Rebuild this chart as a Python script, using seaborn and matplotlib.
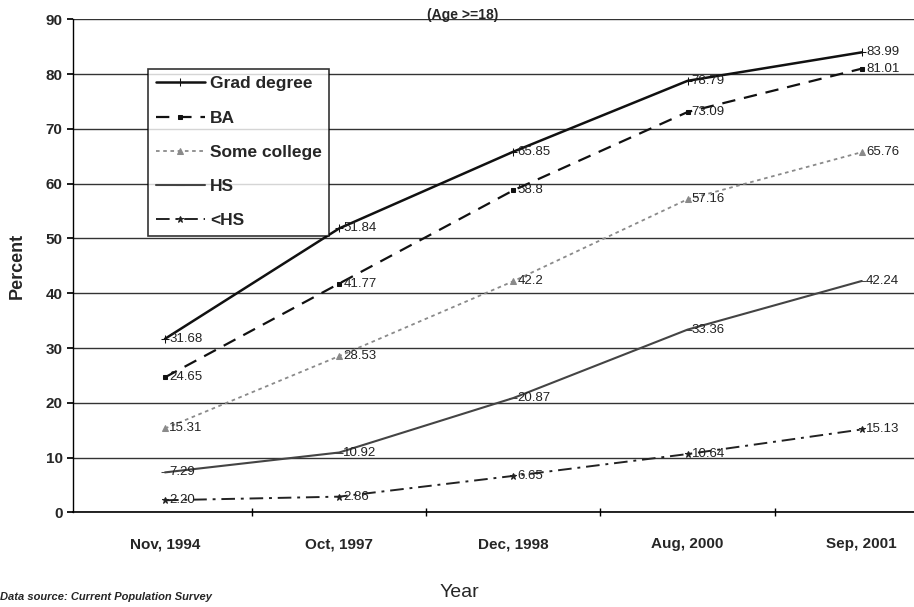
import matplotlib
matplotlib.use("Agg")
import matplotlib.pyplot as plt
import seaborn as sns
import pandas as pd
import numpy as np

categories = ["Nov, 1994", "Oct, 1997", "Dec, 1998", "Aug, 2000", "Sep, 2001"]
grad_degree = [31.68, 51.84, 65.85, 78.79, 83.99]
ba = [24.65, 41.77, 58.8, 73.09, 81.01]
some_college = [15.31, 28.53, 42.2, 57.16, 65.76]
hs = [7.29, 10.92, 20.87, 33.36, 42.24]
less_hs = [2.20, 2.86, 6.65, 10.64, 15.13]
series_names = ["Grad degree", "BA", "Some college", "HS", "<HS"]
yticks = [0, 10, 20, 30, 40, 50, 60, 70, 80, 90]

sns.set_theme(style="white")
plt.rcParams['font.family'] = ['Liberation Sans', 'DejaVu Sans']

values = [grad_degree, ba, some_college, hs, less_hs]
df = pd.DataFrame({
    "Year": categories * len(series_names),
    "Percent": [v for s in values for v in s],
    "Series": [n for n in series_names for _ in categories],
})

fig = plt.figure(figsize=(9.14, 6.07), dpi=100)
ax = fig.add_axes([0.0799, 0.156, 0.9201, 0.812])

styles = {
    "Grad degree": dict(color="#111111", ls="-", lw=1.8, marker="+", ms=6),
    "BA": dict(color="#111111", ls=(0, (6, 4)), lw=1.6, marker="s", ms=3.5),
    "Some college": dict(color="#8a8a8a", ls=(0, (2, 2)), lw=1.3, marker="^", ms=4),
    "HS": dict(color="#444444", ls="-", lw=1.5, marker="_", ms=6),
    "<HS": dict(color="#222222", ls=(0, (7, 3, 1.5, 3)), lw=1.4, marker="*", ms=5),
}

for name in series_names:
    st = styles[name]
    sub = df[df["Series"] == name]
    sns.lineplot(data=sub, x="Year", y="Percent", ax=ax, sort=False,
                 color=st["color"], linestyle=st["ls"], linewidth=st["lw"],
                 marker=st["marker"], markersize=st["ms"],
                 markeredgecolor=st["color"], markerfacecolor=st["color"],
                 label=name)
    for xc, yv in zip(sub["Year"], sub["Percent"]):
        txt = f"{yv:.2f}" if name in ("HS", "<HS") else f"{yv:g}"
        ax.annotate(txt, xy=(xc, yv), xytext=(3, 0), textcoords="offset points",
                    ha="left", va="center", fontsize=9.5, color="#222222")

ax.set_ylim(0, 90)
ax.set_xlim(-0.528, 4.30)
ax.set_yticks(yticks)
ax.set_yticklabels([str(t) for t in yticks], fontweight="bold", fontsize=11)
ax.set_xticks(range(len(categories)))
ax.set_xticklabels(categories, fontweight="bold", fontsize=11)
ax.set_xticks(np.arange(len(categories) - 1) + 0.5, minor=True)
ax.tick_params(axis="x", which="major", pad=18, length=0)
ax.tick_params(axis="x", which="minor", length=6, direction="inout",
               bottom=True, color="black", width=1.0)
ax.tick_params(axis="y", length=4, left=True, color="black")
ax.yaxis.grid(True, color="#333333", linewidth=1.0)
ax.set_axisbelow(True)
for s in ["top", "right"]:
    ax.spines[s].set_visible(False)
ax.spines["left"].set_color("black")
ax.spines["bottom"].set_color("black")
ax.spines["left"].set_linewidth(1.0)
ax.spines["bottom"].set_linewidth(1.2)

ax.set_xlabel("Year", fontsize=14)
ax.xaxis.set_label_coords(0.46, -0.145)
ax.set_ylabel("Percent", fontsize=13, fontweight="bold", labelpad=14)

leg = ax.legend(loc="upper left", bbox_to_anchor=(0.079, 0.918), frameon=True,
                fontsize=12.5, handlelength=2.8, handletextpad=0.3,
                labelspacing=1.1, borderpad=0.45, fancybox=False,
                edgecolor="black")
for t in leg.get_texts():
    t.set_fontweight("bold")
leg.get_frame().set_linewidth(1.2)

fig.text(0.506, 0.976, "(Age >=18)", ha="center", va="center", fontsize=10, fontweight="bold")
fig.text(0.0, 0.008, "Data source: Current Population Survey", ha="left", va="bottom",
         fontsize=8, fontstyle="italic", fontweight="bold")

fig.savefig("out.png", dpi=100)
